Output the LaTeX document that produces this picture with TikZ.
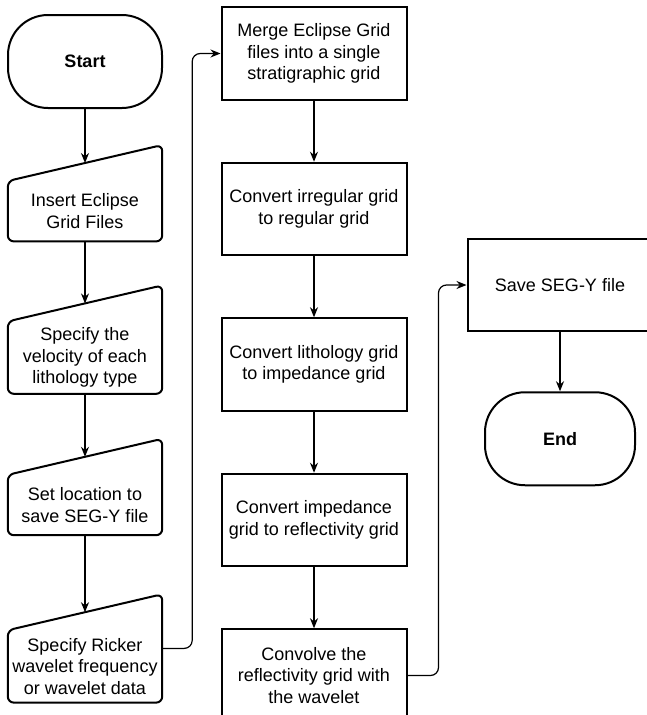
\documentclass[tikz,border=0pt]{standalone}
\usepackage{fontspec}
\setmainfont{Liberation Sans}
\usetikzlibrary{positioning,shapes,arrows.meta}
\tikzset{
    terminal/.style={
        rectangle,
        rounded corners=40pt,
        draw=black,
        line width=2pt,
        minimum width=154pt,
        minimum height=93pt,
        text centered,
        font=\bfseries\fontsize{18}{21.6}\selectfont
    },
    process/.style={
        rectangle,
        draw=black,
        line width=2pt,
        minimum width=185pt,
        minimum height=92.5pt,
        align=center,
        font=\fontsize{18}{21.6}\selectfont
    },
    manualin/.style={
        rectangle,
        minimum width=154pt,
        minimum height=60pt,
        inner sep=1pt,
        align=center,
        font=\fontsize{18}{21.6}\selectfont,
        append after command={
            \pgfextra{
                \draw [draw=black, line width=2pt, rounded corners=6pt]
                (\tikzlastnode.south west) -- (\tikzlastnode.north west)
                -- ([yshift=36pt]\tikzlastnode.north east)
                -- (\tikzlastnode.south east) -- cycle;
            }
        }
    },
    arrow/.style={
        -{Stealth[length=10pt,width=8pt]},
        line width=1.2pt
    }
}

\begin{document}
\begin{tikzpicture}
          \useasboundingbox (0,0) rectangle (647pt,-715pt);
          \node (start) [terminal] at (85pt,-61.5pt) {Start};
          \node (input1) [manualin, below=72pt of start] {Insert Eclipse\\Grid Files};
          \node (input2) [manualin, minimum height=72pt, below=80pt of input1] {Specify the\\velocity of each\\lithology type};
          \node (input3) [manualin, below=81pt of input2] {Set location to\\save SEG-Y file};
          \node (input4) [manualin, minimum height=72pt, below=95pt of input3] {Specify Ricker\\wavelet frequency\\or wavelet data};
          \node (merge) [process] at (314pt,-53.5pt) {Merge Eclipse Grid\\files into a single\\stratigraphic grid};
          \node (regular) [process, below=61pt of merge] {Convert irregular grid\\to regular grid};
          \node (impedance) [process, below=61pt of regular] {Convert lithology grid\\to impedance grid};
          \node (reflect) [process, below=61pt of impedance] {Convert impedance\\grid to reflectivity grid};
          \node (convolve) [process, below=61pt of reflect] {Convolve the\\reflectivity grid with\\the wavelet};
          \node (save) [process] at (560pt,-285pt) {Save SEG-Y file};
          \node (stop) [terminal, minimum width=150pt, below=59pt of save] {End};
          \draw [arrow] (start) -- ([yshift=18pt]input1.north);
          \draw [arrow] (input1) -- ([yshift=18pt]input2.north);
          \draw [arrow] (input2) -- ([yshift=18pt]input3.north);
          \draw [arrow] (input3) -- ([yshift=18pt]input4.north);
          \draw [arrow, rounded corners=8pt] ([yshift=18pt]input4.east) -- ++(30pt,0) |- (merge.west);
          \draw [arrow] (merge) -- (regular);
          \draw [arrow] (regular) -- (impedance);
          \draw [arrow] (impedance) -- (reflect);
          \draw [arrow] (reflect) -- (convolve);
          \draw [arrow, rounded corners=8pt] (convolve.east) -- ++(31pt,0) |- (save.west);
          \draw [arrow] (save) -- (stop);
\end{tikzpicture}
\end{document}
